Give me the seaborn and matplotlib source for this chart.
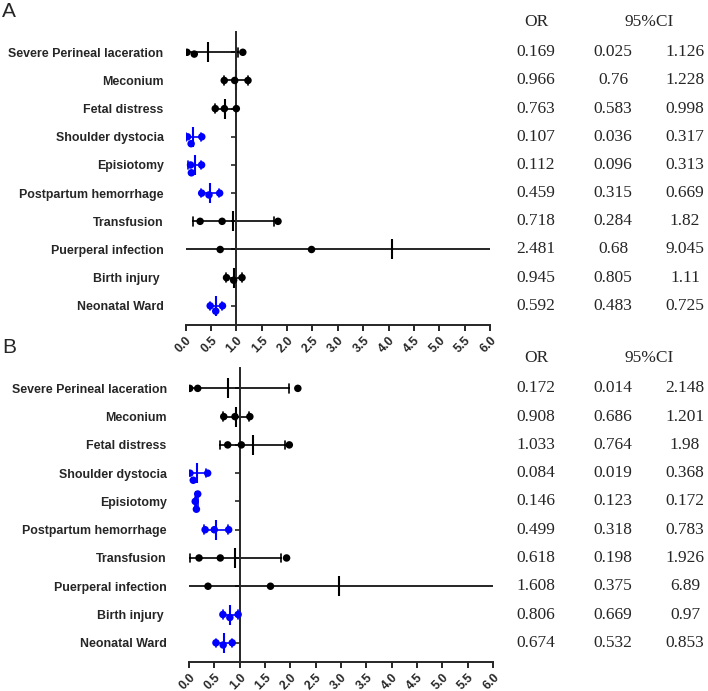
import numpy as np
import pandas as pd
import matplotlib
matplotlib.use('Agg')
import matplotlib.pyplot as plt
import seaborn as sns
from matplotlib.transforms import blended_transform_factory

# --- 資料 ---
outcomes = ['Severe Perineal laceration', 'Meconium', 'Fetal distress', 'Shoulder dystocia',
            'Episiotomy', 'Postpartum hemorrhage', 'Transfusion', 'Puerperal infection',
            'Birth injury ', 'Neonatal Ward']

or_a = [0.169, 0.966, 0.763, 0.107, 0.112, 0.459, 0.718, 2.481, 0.945, 0.592]
lo_a = [0.025, 0.76, 0.583, 0.036, 0.096, 0.315, 0.284, 0.68, 0.805, 0.483]
hi_a = [1.126, 1.228, 0.998, 0.317, 0.313, 0.669, 1.82, 9.045, 1.11, 0.725]
sig_a = [0, 0, 0, 1, 1, 1, 0, 0, 0, 1]

or_b = [0.172, 0.908, 1.033, 0.084, 0.146, 0.499, 0.618, 1.608, 0.806, 0.674]
lo_b = [0.014, 0.686, 0.764, 0.019, 0.123, 0.318, 0.198, 0.375, 0.669, 0.532]
hi_b = [2.148, 1.201, 1.98, 0.368, 0.172, 0.783, 1.926, 6.89, 0.97, 0.853]
sig_b = [0, 0, 0, 1, 1, 1, 0, 0, 1, 1]

x_ticks = np.arange(0, 6.01, 0.5)
x_ticklabels = [f'{t:.1f}' for t in x_ticks]

palette = {'ns': '#000000', 'sig': '#0000ff'}

sns.set_style('ticks')
plt.rcParams['font.family'] = ['Liberation Sans', 'DejaVu Sans']


def to_long(or_, lo, hi, sig):
    rows = []
    for name, o, l, h, s in zip(outcomes, or_, lo, hi, sig):
        grp = 'sig' if s else 'ns'
        for v in (o, l, h):
            rows.append({'outcome': name, 'value': v, 'grp': grp})
    return pd.DataFrame(rows)


def draw_panel(fig, rect, or_, lo, hi, sig, letter):
    ax = fig.add_axes(rect)
    df = to_long(or_, lo, hi, sig)

    # 平均 ± SD
    sns.pointplot(data=df, x='value', y='outcome', hue='grp', palette=palette, order=outcomes,
                  errorbar='sd', capsize=0.3, marker='|', markersize=15, markeredgewidth=1.5,
                  linestyle='none', err_kws={'linewidth': 1.2}, legend=False, ax=ax)
    # 三個點 (OR, 下限, 上限)
    sns.swarmplot(data=df, x='value', y='outcome', hue='grp', palette=palette, order=outcomes,
                  size=5.4, legend=False, ax=ax)

    ax.set_xlim(0, 6)
    ax.set_ylim(len(outcomes) - 1 + 0.68, -0.72)
    ax.set_xticks(x_ticks)
    ax.set_xticklabels(x_ticklabels, rotation=45, ha='right', rotation_mode='anchor',
                       fontsize=8.8, fontweight='bold')
    ax.set_xlabel(''); ax.set_ylabel('')
    ax.spines['top'].set_visible(False)
    ax.spines['right'].set_visible(False)
    ax.spines['left'].set_position(('data', 1))
    for sp in ('left', 'bottom'):
        ax.spines[sp].set_linewidth(1.4)
    ax.tick_params(axis='x', length=4.5, width=1.4, pad=2)
    ax.tick_params(axis='y', length=3.5, width=1.2, pad=49)
    for lab in ax.get_yticklabels():
        lab.set_fontweight('bold'); lab.set_fontsize(8.9)

    # OR / 95%CI 表格
    tr = blended_transform_factory(fig.transFigure, ax.transData)
    txt = dict(transform=tr, ha='center', va='center', fontsize=12.5,
               family=['Liberation Serif', 'DejaVu Serif'], clip_on=False)
    ax.text(536 / 708, -1.08, 'OR', **txt)
    ax.text(649 / 708, -1.08, '95%CI', **txt)
    for i, (o, l, h) in enumerate(zip(or_, lo, hi)):
        ax.text(536 / 708, i, str(o), **txt)
        ax.text(613 / 708, i, str(l), **txt)
        ax.text(685 / 708, i, str(h), **txt)

    ax.text(0.003, -1.45, letter, transform=tr, ha='left', va='center', fontsize=15, clip_on=False)
    return ax


fig = plt.figure(figsize=(7.08, 6.91), dpi=100)
draw_panel(fig, [185.7 / 708, 1 - 325 / 691, 304.3 / 708, 293 / 691], or_a, lo_a, hi_a, sig_a, 'A')
draw_panel(fig, [189 / 708, 1 - 662 / 691, 304 / 708, 294 / 691], or_b, lo_b, hi_b, sig_b, 'B')
fig.savefig('out.png', dpi=100)
